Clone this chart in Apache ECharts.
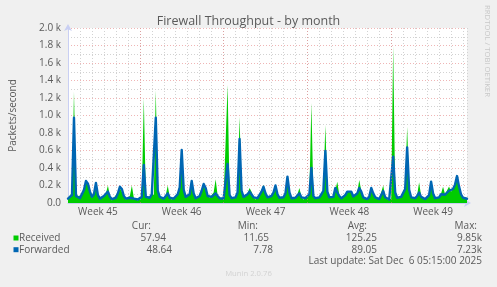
<!DOCTYPE html>
<html>
<head>
<meta charset="utf-8">
<script src="https://cdn.jsdelivr.net/npm/echarts@6/dist/echarts.min.js"></script>
<style>
html,body{margin:0;padding:0;background:#f0f0f0;}
#c{width:497px;height:287px;}
</style>
</head>
<body>
<div id="c"></div>
<script>
// Time step between samples: 4 hours. x axis runs 0..800 hours.
const STEP_HOURS = 4;
const weekLabels = ['Week 45', 'Week 46', 'Week 47', 'Week 48', 'Week 49'];
const weekCenters = [60, 228, 396, 564, 732];
const weekBoundaries = [144, 312, 480, 648];
const yTickValues = [0, 200, 400, 600, 800, 1000, 1200, 1400, 1600, 1800, 2000];

const received = [
  60, 90, 120, 1272, 110, 80, 70, 90,
  160, 240, 210, 120, 60, 110, 220, 100,
  40, 70, 90, 110, 200, 80, 30, 60,
  70, 120, 170, 150, 90, 40, 20, 80,
  200, 60, 40, 30, 50, 90, 1196, 80,
  60, 70, 120, 90, 1290, 150, 60, 80,
  50, 90, 200, 70, 40, 60, 80, 120,
  200, 560, 160, 70, 50, 110, 230, 120,
  60, 40, 80, 150, 200, 180, 90, 60,
  80, 120, 271, 90, 60, 40, 50, 70,
  1349, 110, 60, 50, 70, 130, 987, 150,
  80, 60, 110, 171, 130, 70, 40, 60,
  80, 150, 205, 120, 70, 50, 90, 130,
  210, 110, 60, 40, 70, 120, 290, 130,
  60, 40, 70, 100, 171, 70, 40, 60,
  80, 120, 1143, 90, 60, 50, 70, 110,
  150, 891, 140, 70, 50, 80, 150, 244,
  90, 60, 50, 100, 130, 120, 135, 80,
  60, 120, 263, 140, 70, 50, 40, 80,
  150, 120, 70, 50, 40, 60, 200, 70,
  40, 30, 50, 1794, 140, 60, 50, 80,
  100, 180, 872, 160, 70, 50, 60, 90,
  236, 80, 50, 40, 60, 100, 230, 120,
  60, 50, 70, 110, 186, 100, 120, 190,
  130, 170, 220, 300, 200, 110, 70, 60, 58
];
const forwarded = [
  50, 70, 90, 975, 80, 60, 55, 70,
  150, 251, 220, 130, 70, 100, 230, 90,
  50, 60, 80, 100, 130, 70, 45, 55,
  60, 110, 186, 160, 80, 50, 40, 60,
  80, 50, 45, 40, 50, 70, 434, 70,
  60, 60, 100, 80, 975, 140, 70, 70,
  50, 80, 110, 60, 45, 50, 70, 100,
  180, 605, 150, 70, 55, 100, 251, 110,
  55, 45, 80, 140, 217, 170, 80, 60,
  70, 90, 110, 80, 55, 45, 50, 60,
  446, 90, 55, 50, 65, 120, 731, 140,
  70, 55, 100, 130, 120, 65, 45, 55,
  70, 130, 186, 110, 65, 50, 80, 120,
  200, 100, 60, 45, 65, 110, 301, 120,
  55, 45, 60, 80, 110, 65, 45, 55,
  70, 100, 400, 80, 55, 50, 65, 100,
  140, 594, 130, 65, 50, 70, 171, 120,
  80, 55, 50, 90, 130, 110, 130, 75,
  55, 110, 171, 130, 65, 50, 45, 70,
  171, 110, 65, 50, 45, 55, 137, 65,
  45, 40, 50, 530, 120, 60, 50, 70,
  90, 160, 636, 150, 65, 50, 55, 80,
  120, 70, 50, 45, 55, 90, 244, 110,
  55, 50, 65, 100, 120, 95, 110, 140,
  120, 160, 210, 308, 190, 100, 60, 50, 49
];

const legendNames = ['Received', 'Forwarded'];
const legendColors = ['#00cc00', '#0066b3'];
const curVals = ['57.94', '48.64'];
const minVals = ['11.65', '7.78'];
const avgVals = ['125.25', '89.05'];
const maxVals = ['9.85k', '7.23k'];
const lastUpdate = 'Last update: Sat Dec  6 05:15:00 2025';
const titleText = 'Firewall Throughput - by month';

const toPairs = arr => arr.map((v, i) => [i * STEP_HOURS, v]);

const FONT = '"Open Sans", "Noto Sans", sans-serif';
const TXT = '#5a5a5a';
const AXISC = '#c9cff3';
const RED = 'rgba(225,120,120,0.55)';
const GRAY = '#d2d2d2';

const chart = echarts.init(document.getElementById('c'), null, {renderer: 'canvas'});

const g = [];
function txt(x, y, s, align, size, color) {
  g.push({type: 'text', x: x, y: y, silent: true,
    style: {text: s, fill: color || TXT, font: (size || 10) + 'px ' + FONT,
      textAlign: align || 'left', textVerticalAlign: 'middle'}});
}
txt(248.5, 21.3, titleText, 'center', 12.5, TXT);
g.push({type: 'text', x: 487, y: 51, rotation: -Math.PI / 2, silent: true,
  style: {text: 'RRDTOOL / TOBI OETIKER', fill: '#c8c8c8', font: '7.7px ' + FONT,
    textAlign: 'center', textVerticalAlign: 'middle'}});
const colsRight = [151, 258, 367, 477];
const heads = ['Cur:', 'Min:', 'Avg:', 'Max:'];
heads.forEach((h, k) => txt(colsRight[k], 226.5, h, 'right'));
const rowsY = [238.3, 250];
const valRight = [[166, 269, 377, 482], [172, 273, 377, 482]];
legendNames.forEach((n, r) => {
  g.push({type: 'rect', shape: {x: 13.5, y: rowsY[r] - 2.8, width: 5, height: 5}, silent: true,
    style: {fill: legendColors[r]}});
  txt(19, rowsY[r], n, 'left');
  const vals = [curVals[r], minVals[r], avgVals[r], maxVals[r]];
  vals.forEach((v, k) => txt(valRight[r][k], rowsY[r], v, 'right'));
});
txt(482, 261.5, lastUpdate, 'right');
txt(248.5, 274, 'Munin 2.0.76', 'center', 7.7, '#d2d2d2');

const dotted = [1, 2];

chart.setOption({
  backgroundColor: '#f0f0f0',
  animation: false,
  textStyle: {fontFamily: FONT},
  grid: {left: 67, right: 30, top: 28, bottom: 84, show: true, backgroundColor: '#ffffff', borderWidth: 0},
  xAxis: [
    {
      type: 'value', min: 0, max: 800, interval: 12,
      axisLine: {show: true, lineStyle: {color: AXISC, width: 1}, symbol: ['none', 'arrow'], symbolSize: [6, 7], symbolOffset: [0, 4]},
      axisTick: {show: false},
      splitLine: {show: false},
      axisLabel: {
        margin: 4, color: TXT, fontSize: 10, fontFamily: FONT, showMinLabel: true, showMaxLabel: true,
        formatter: v => { const k = weekCenters.indexOf(v); return k >= 0 ? weekLabels[k] : ''; }
      }
    },
    {
      type: 'value', min: 0, max: 800, interval: 24, position: 'bottom',
      axisLine: {show: false}, axisTick: {show: false}, axisLabel: {show: false},
      splitLine: {show: true, lineStyle: {color: GRAY, width: 1, type: dotted}}
    }
  ],
  yAxis: {
    type: 'value', min: 0, max: 2000, interval: 200,
    axisLine: {show: true, lineStyle: {color: AXISC, width: 1}, symbol: ['none', 'arrow'], symbolSize: [6, 7], symbolOffset: [0, 4]},
    axisTick: {show: false},
    axisLabel: {
      margin: 7, color: TXT, fontSize: 10, fontFamily: FONT,
      formatter: v => yTickValues.indexOf(v) < 0 ? '' : (v === 0 ? '0.0' : (v / 1000).toFixed(1) + ' k')
    },
    splitLine: {show: true, lineStyle: {color: RED, width: 1, type: dotted}},
    minorTick: {show: false, splitNumber: 2},
    minorSplitLine: {show: true, lineStyle: {color: GRAY, width: 1, type: dotted}},
    name: 'Packets/second', nameLocation: 'middle', nameGap: 50, nameRotate: 90,
    nameTextStyle: {color: TXT, fontSize: 10, fontFamily: FONT}
  },
  series: [
    {
      type: 'line', name: 'grid-weeks', data: [], z: 1, silent: true,
      markLine: {
        silent: true, symbol: ['none', 'none'], label: {show: false},
        lineStyle: {color: RED, width: 1, type: dotted},
        data: weekBoundaries.map(h => ({xAxis: h}))
      }
    },
    {
      type: 'line', name: legendNames[0], data: toPairs(received), z: 2,
      showSymbol: false, symbol: 'none',
      lineStyle: {width: 0},
      areaStyle: {color: legendColors[0], opacity: 1}
    },
    {
      type: 'line', name: legendNames[1], data: toPairs(forwarded), z: 3,
      showSymbol: false, symbol: 'none',
      lineStyle: {color: legendColors[1], width: 2.4, join: 'round', cap: 'round'}
    }
  ],
  graphic: g
});
</script>
</body>
</html>
